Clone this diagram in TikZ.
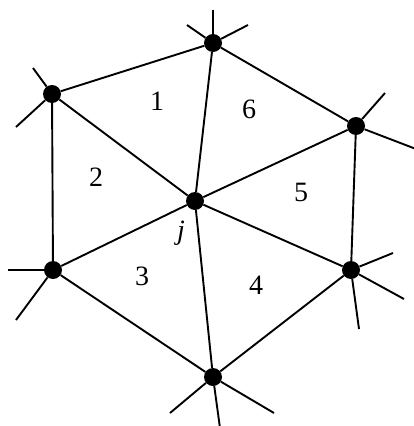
\documentclass[tikz,border=0pt]{standalone}
\usepackage{fontspec}
\setmainfont{Liberation Serif}
\usepackage{tikz}

\begin{document}
\begin{tikzpicture}[
  x=1pt, y=-1pt,
  vtx/.style={circle, fill=black, inner sep=0pt, minimum size=18pt},
  edge/.style={draw=black, line width=1.9pt},
  lbl/.style={font=\fontsize{28}{30}\selectfont, inner sep=0pt}
]
\useasboundingbox (0,0) rectangle (414,426);

% centre node and its ring
\node[vtx] (j) at (195,201) {};
\node[vtx] (top) at (213,43) {};
\node[vtx] (ltop) at (52,94) {};
\node[vtx] (lbot) at (53,270) {};
\node[vtx] (bot) at (213,377) {};
\node[vtx] (rbot) at (351,270) {};
\node[vtx] (rtop) at (356,126) {};

% free ends of the outer stubs
\coordinate (top-a) at (213,10);
\coordinate (top-b) at (187,25);
\coordinate (top-c) at (248,25);
\coordinate (ltop-a) at (33,68);
\coordinate (ltop-b) at (16,127);
\coordinate (rtop-a) at (385,93);
\coordinate (rtop-b) at (416,149);
\coordinate (lbot-a) at (8,270);
\coordinate (lbot-b) at (16,320);
\coordinate (rbot-a) at (393,253);
\coordinate (rbot-b) at (404,299);
\coordinate (rbot-c) at (359,329);
\coordinate (bot-a) at (170,413);
\coordinate (bot-b) at (274,413);
\coordinate (bot-c) at (220,428);

% spokes
\foreach \v in {top,ltop,lbot,bot,rbot,rtop}
  \draw[edge] (j) -- (\v);

% ring
\draw[edge] (top) -- (ltop);
\draw[edge] (ltop) -- (lbot);
\draw[edge] (lbot) -- (bot);
\draw[edge] (bot) -- (rbot);
\draw[edge] (rbot) -- (rtop);
\draw[edge] (rtop) -- (top);

% stubs
\foreach \v/\e in {top/a,top/b,top/c,ltop/a,ltop/b,rtop/a,rtop/b,lbot/a,lbot/b,rbot/a,rbot/b,rbot/c,bot/a,bot/b,bot/c}
  \draw[edge] (\v) -- (\v-\e);

% element numbers
\node[lbl] (e1) at (157,101) {1};
\node[lbl] (e6) at (249,109) {6};
\node[lbl] (e2) at (96,177) {2};
\node[lbl] (e5) at (301,192) {5};
\node[lbl] (e3) at (142,276) {3};
\node[lbl] (e4) at (256,285) {4};
\node[lbl] (jlbl) at (181,233) {\itshape j};

\end{tikzpicture}
\end{document}
